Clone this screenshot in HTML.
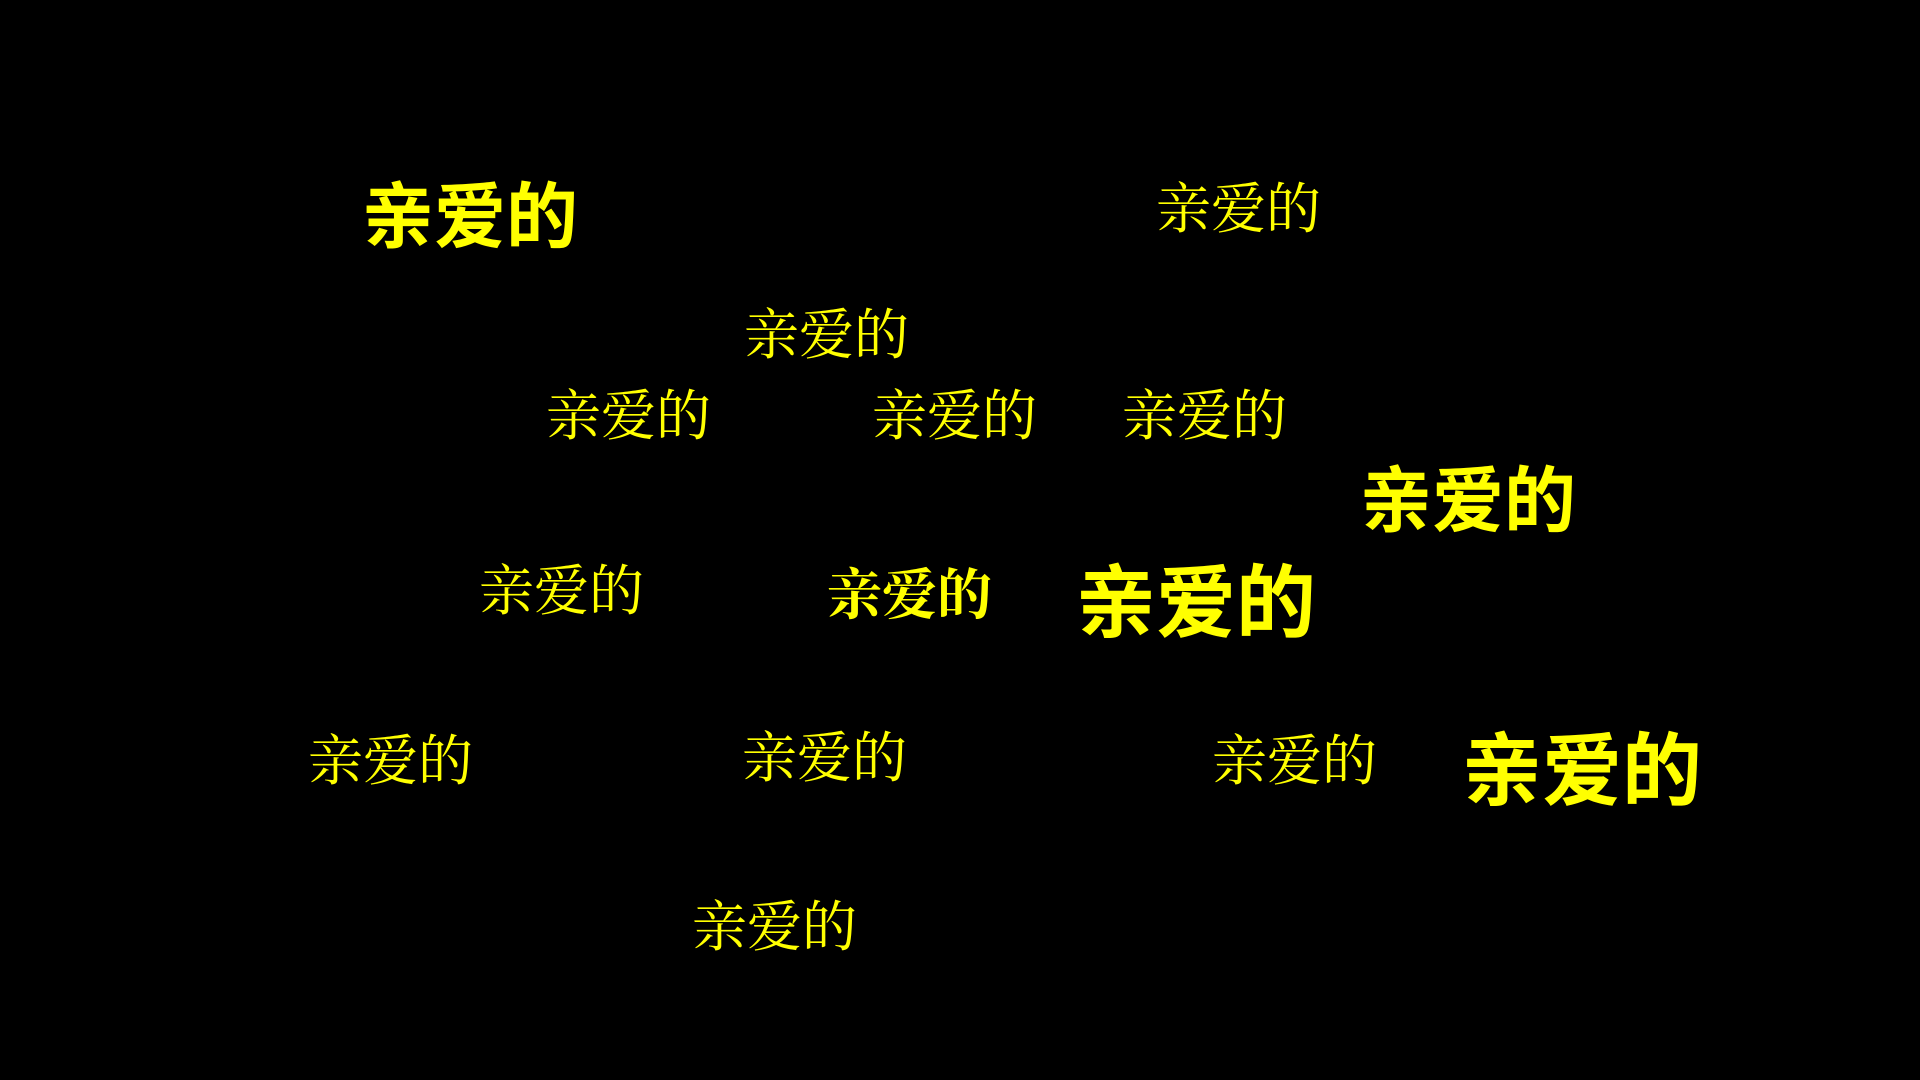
<!DOCTYPE html>
<html><head><meta charset="utf-8"><style>
html,body{margin:0;padding:0;background:#000;width:1920px;height:1080px;overflow:hidden}
.t{position:absolute;color:#ffff00;line-height:1;white-space:nowrap;font-family:"Liberation Serif","Noto Serif CJK SC",serif;font-size:55px}
.b{font-family:"Liberation Sans","Noto Sans CJK SC",sans-serif;font-weight:bold;font-size:72px}
.bb{font-family:"Liberation Sans","Noto Sans CJK SC",sans-serif;font-weight:bold;font-size:80px}
</style></head><body>
<div class="t b" style="left:362px;top:182px">亲爱的</div>
<div class="t" style="left:1156px;top:182px">亲爱的</div>
<div class="t" style="left:744px;top:308px">亲爱的</div>
<div class="t" style="left:546px;top:389px">亲爱的</div>
<div class="t" style="left:872px;top:389px">亲爱的</div>
<div class="t" style="left:1122px;top:389px">亲爱的</div>
<div class="t b" style="left:1360px;top:466px">亲爱的</div>
<div class="t" style="left:479px;top:564px">亲爱的</div>
<div class="t" style="left:827px;top:568px;font-weight:bold">亲爱的</div>
<div class="t bb" style="left:1076px;top:564px">亲爱的</div>
<div class="t" style="left:308px;top:734px">亲爱的</div>
<div class="t" style="left:742px;top:731px">亲爱的</div>
<div class="t" style="left:1212px;top:734px">亲爱的</div>
<div class="t bb" style="left:1462px;top:732px">亲爱的</div>
<div class="t" style="left:692px;top:900px">亲爱的</div>
</body></html>
